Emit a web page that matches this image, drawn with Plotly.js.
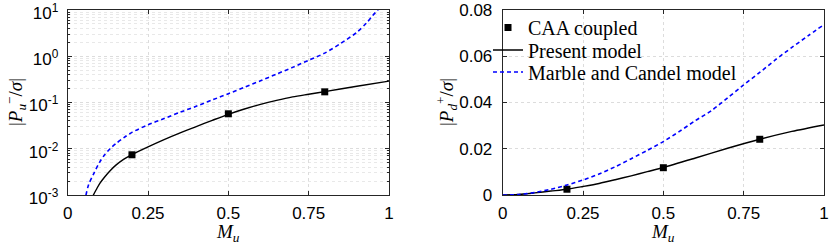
<!DOCTYPE html>
<html>
<head>
<meta charset="utf-8">
<script src="https://cdn.plot.ly/plotly-3.0.1.min.js"></script>
<style>html,body{margin:0;padding:0;background:#fff;}#chart{width:830px;height:243px;}</style>
</head>
<body>
<div id="chart"></div>
<script>
// ---- Data ----
// Left panel: |P_u^- / sigma| (log scale)
const leftPresentM   = [0.07, 0.078, 0.09, 0.1, 0.115, 0.132, 0.15, 0.175, 0.2, 0.25, 0.3, 0.35, 0.4, 0.45, 0.5, 0.55, 0.6, 0.65, 0.7, 0.75, 0.8, 0.9, 1.0];
const leftPresentVal = [0.0006, 0.00093, 0.00135, 0.00178, 0.00245, 0.00335, 0.00442, 0.00596, 0.0075, 0.011, 0.0158, 0.0221, 0.0302, 0.0412, 0.0556, 0.0724, 0.0912, 0.111, 0.132, 0.151, 0.172, 0.224, 0.29];
const leftMarbleM    = [0.05, 0.057, 0.065, 0.08, 0.1, 0.115, 0.132, 0.15, 0.175, 0.2, 0.25, 0.3, 0.35, 0.4, 0.45, 0.5, 0.55, 0.6, 0.65, 0.7, 0.75, 0.8, 0.85, 0.9, 0.93, 0.95, 0.965, 0.975, 0.985];
const leftMarbleVal  = [0.0005, 0.001, 0.00166, 0.0028, 0.0052, 0.0074, 0.0100, 0.0129, 0.0174, 0.0226, 0.033, 0.045, 0.0617, 0.083, 0.1135, 0.155, 0.214, 0.295, 0.412, 0.575, 0.82, 1.17, 1.9, 3.3, 5.25, 7.7, 10.0, 12.0, 15.8];
const caaM           = [0.2, 0.5, 0.8];
const leftCaaVal     = [0.0074, 0.057, 0.17];

// Right panel: |P_d^+ / sigma| (linear scale)
const rightPresentM   = [0, 0.05, 0.1, 0.15, 0.2, 0.25, 0.3, 0.35, 0.4, 0.45, 0.5, 0.6, 0.7, 0.8, 0.9, 1.0];
const rightPresentVal = [0, 0.0002, 0.0009, 0.0017, 0.0025, 0.0037, 0.0050, 0.0066, 0.0083, 0.0101, 0.0119, 0.0160, 0.0202, 0.0241, 0.0275, 0.0303];
const rightMarbleM    = [0, 0.05, 0.1, 0.15, 0.2, 0.25, 0.3, 0.35, 0.4, 0.45, 0.5, 0.55, 0.6, 0.65, 0.7, 0.75, 0.8, 0.85, 0.9, 0.95, 1.0];
const rightMarbleVal  = [0, 0.0002, 0.0011, 0.0025, 0.0043, 0.0065, 0.0091, 0.0122, 0.0157, 0.0193, 0.0231, 0.0275, 0.0322, 0.0365, 0.0420, 0.0476, 0.0530, 0.0586, 0.0638, 0.0688, 0.0737];
const rightCaaVal     = [0.0025, 0.0118, 0.0241];

const legendNames = ['CAA coupled', 'Present model', 'Marble and Candel model'];
const xTicks = [0, 0.25, 0.5, 0.75, 1];
const xTickText = ['0', '0.25', '0.5', '0.75', '1'];
const yLogTicks = [0.001, 0.01, 0.1, 1, 10];
const yLogTickText = ['10<sup>-3</sup>', '10<sup>-2</sup>', '10<sup>-1</sup>', '10<sup>0</sup>', '10<sup>1</sup>'];

// ---- Styles ----
const blue = '#0000ff';
const axisColor = '#262626';
const gridColor = '#dcdcdc';
const tickFont = {family: 'Liberation Sans, Arial, sans-serif', size: 17, color: '#000'};
const serif = 'Liberation Serif, Times New Roman, serif';

const minorLog = [];
for (let e = -3; e < 1; e++) for (let d = 2; d <= 9; d++) minorLog.push(d * Math.pow(10, e));

const traces = [
  {x: leftMarbleM, y: leftMarbleVal, xaxis: 'x', yaxis: 'y', mode: 'lines', line: {color: blue, width: 1.6, dash: '4px,3px', shape: 'spline', smoothing: 0.8}, showlegend: false, hoverinfo: 'skip'},
  {x: leftPresentM, y: leftPresentVal, xaxis: 'x', yaxis: 'y', mode: 'lines', line: {color: '#000', width: 1.4, shape: 'spline', smoothing: 0.8}, showlegend: false, hoverinfo: 'skip'},
  {x: caaM, y: leftCaaVal, xaxis: 'x', yaxis: 'y', mode: 'markers', marker: {symbol: 'square', size: 7, color: '#000'}, showlegend: false, cliponaxis: false},
  {x: caaM, y: rightCaaVal, xaxis: 'x2', yaxis: 'y2', mode: 'markers', name: legendNames[0], legend: 'legend', marker: {symbol: 'square', size: 7, color: '#000'}, cliponaxis: false},
  {x: rightPresentM, y: rightPresentVal, xaxis: 'x2', yaxis: 'y2', mode: 'lines', name: legendNames[1], legend: 'legend2', line: {color: '#000', width: 1.4, shape: 'spline', smoothing: 0.8}},
  {x: rightMarbleM, y: rightMarbleVal, xaxis: 'x2', yaxis: 'y2', mode: 'lines', name: legendNames[2], legend: 'legend3', line: {color: blue, width: 1.6, dash: '4px,3px', shape: 'spline', smoothing: 0.8}}
];

const commonX = {
  range: [0, 1], tickvals: xTicks, ticktext: xTickText, ticks: 'inside', ticklen: 4, tickwidth: 1, tickcolor: axisColor,
  showline: true, linecolor: axisColor, linewidth: 1, mirror: 'ticks', zeroline: false,
  showgrid: true, gridcolor: gridColor, griddash: 'dot', gridwidth: 1,
  tickfont: tickFont, ticklabelstandoff: 3, ticklabeloverflow: 'allow', fixedrange: true
};
const yDomain = [48 / 243, 233 / 243];

function legendAt(rowY) {
  return {x: 488 / 830, y: 1 - rowY / 243, xanchor: 'left', yanchor: 'middle', bgcolor: 'rgba(0,0,0,0)', borderwidth: 0,
          font: {family: serif, size: 20, color: '#000'}, itemwidth: 30};
}

const layout = {
  width: 830, height: 243, autosize: false,
  margin: {l: 0, r: 0, t: 0, b: 0},
  paper_bgcolor: '#fff', plot_bgcolor: '#fff',
  showlegend: true,
  legend: legendAt(27.5),
  legend2: legendAt(50),
  legend3: legendAt(72),
  xaxis: Object.assign({}, commonX, {domain: [67.7 / 830, 389 / 830], anchor: 'y'}),
  xaxis2: Object.assign({}, commonX, {domain: [502.7 / 830, 824 / 830], anchor: 'y2'}),
  yaxis: {
    type: 'log', range: [-3.0002, 1.0002], domain: yDomain, anchor: 'x',
    tickvals: yLogTicks, ticktext: yLogTickText, ticks: 'inside', ticklen: 4, tickcolor: axisColor,
    showline: true, linecolor: axisColor, linewidth: 1, mirror: 'ticks', zeroline: false,
    showgrid: true, gridcolor: gridColor, griddash: 'dot',
    minor: {tickvals: minorLog, ticks: 'inside', ticklen: 2.5, tickcolor: axisColor, showgrid: true, gridcolor: '#e8e8e8', griddash: 'dot'},
    tickfont: tickFont, ticklabelstandoff: 5, ticklabelshift: 3, ticklabeloverflow: 'allow', fixedrange: true
  },
  yaxis2: {
    range: [0, 0.08], dtick: 0.02, tick0: 0, domain: yDomain, anchor: 'x2',
    ticks: 'inside', ticklen: 4, tickcolor: axisColor,
    showline: true, linecolor: axisColor, linewidth: 1, mirror: 'ticks', zeroline: false,
    showgrid: true, gridcolor: gridColor, griddash: 'dot',
    tickfont: tickFont, ticklabelstandoff: 6, ticklabeloverflow: 'allow', fixedrange: true
  },
  annotations: [
    {xref: 'paper', yref: 'paper', x: 228 / 830, y: 1 - 232.5 / 243, xanchor: 'center', yanchor: 'middle', showarrow: false,
     text: '<i>M</i><sub><i>u</i></sub>', font: {family: serif, size: 19, color: '#000'}},
    {xref: 'paper', yref: 'paper', x: 663 / 830, y: 1 - 232.5 / 243, xanchor: 'center', yanchor: 'middle', showarrow: false,
     text: '<i>M</i><sub><i>u</i></sub>', font: {family: serif, size: 19, color: '#000'}},
    {xref: 'paper', yref: 'paper', x: 15 / 830, y: 1 - 102 / 243, xanchor: 'center', yanchor: 'middle', showarrow: false, textangle: -90,
     text: '|<i>P</i><sub><i>u</i></sub><sup>−</sup>/<i>σ</i>|', font: {family: serif, size: 19, color: '#000'}},
    {xref: 'paper', yref: 'paper', x: 446 / 830, y: 1 - 102 / 243, xanchor: 'center', yanchor: 'middle', showarrow: false, textangle: -90,
     text: '|<i>P</i><sub><i>d</i></sub><sup>+</sup>/<i>σ</i>|', font: {family: serif, size: 19, color: '#000'}}
  ]
};

Plotly.newPlot('chart', traces, layout, {displayModeBar: false, staticPlot: true});
</script>
</body>
</html>
